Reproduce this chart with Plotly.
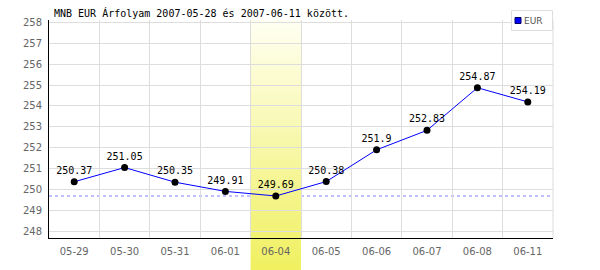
import plotly.graph_objects as go

dates = ["05-29", "05-30", "05-31", "06-01", "06-04", "06-05", "06-06", "06-07", "06-08", "06-11"]
eur = [250.37, 251.05, 250.35, 249.91, 249.69, 250.38, 251.9, 252.83, 254.87, 254.19]
labels = ["250.37", "251.05", "250.35", "249.91", "249.69", "250.38", "251.9", "252.83", "254.87", "254.19"]
y_ticks = list(range(248, 259))
title_text = "MNB EUR Árfolyam 2007-05-28 és 2007-06-11 között."
series_name = "EUR"

W, H = 600, 270
L, R, T, B = 49, 47, 20, 32
PW, PH = W - L - R, H - T - B

def px(x):
    return (x - L) / PW

def py(y):
    return (H - B - y) / PH

xs = list(range(len(dates)))
imin = eur.index(min(eur))

fig = go.Figure()
fig.add_trace(go.Scatter(
    x=xs, y=eur, mode="lines+markers+text", text=labels,
    textposition="top center",
    textfont=dict(family="DejaVu Sans Mono", size=10, color="#000"),
    line=dict(color="#0000ff", width=1),
    marker=dict(color="#000", size=7),
    showlegend=False, cliponaxis=False,
))

shapes = []
# dashed min line
shapes.append(dict(type="line", xref="paper", x0=0, x1=1, yref="y", y0=min(eur), y1=min(eur),
                   line=dict(color="#8080ff", width=1, dash="3px,3px"), layer="between"))
# gradient band
n = 50
top_c = (255, 255, 242)
bot_c = (240, 240, 96)
y_top, y_bot = py(T), py(H)
for i in range(n):
    f = (i + 0.5) / n
    c = tuple(int(round(top_c[k] + (bot_c[k] - top_c[k]) * f)) for k in range(3))
    ya = y_top + (y_bot - y_top) * i / n
    yb = y_top + (y_bot - y_top) * (i + 1) / n
    shapes.append(dict(type="rect", xref="x", x0=imin - 0.5, x1=imin + 0.5, yref="paper",
                       y0=yb, y1=ya, fillcolor="rgb(%d,%d,%d)" % c, line=dict(width=0),
                       layer="between"))
# right edge grid line
shapes.append(dict(type="line", xref="paper", x0=1, x1=1, yref="paper", y0=0, y1=1,
                   line=dict(color="#dddddd", width=1), layer="below"))
# legend box
shapes.append(dict(type="rect", xref="paper", yref="paper", x0=px(511.5), x1=px(552.5),
                   y0=py(30.5), y1=py(10.5), fillcolor="#ffffff",
                   line=dict(color="#dddddd", width=1), layer="above"))
shapes.append(dict(type="rect", xref="paper", yref="paper", x0=px(515), x1=px(521),
                   y0=py(23.5), y1=py(17.5), fillcolor="#0000ff",
                   line=dict(color="#000066", width=1), layer="above"))

fig.update_layout(
    width=W, height=H, margin=dict(l=L, r=R, t=T, b=B),
    paper_bgcolor="#ffffff", plot_bgcolor="#ffffff",
    shapes=shapes,
    showlegend=False,
    annotations=[
        dict(text=title_text, xref="paper", yref="paper", x=px(52), y=py(13),
             xanchor="left", yanchor="middle", showarrow=False,
             font=dict(family="DejaVu Sans Mono", size=10, color="#000")),
        dict(text=series_name, xref="paper", yref="paper", x=px(522), y=py(21),
             xanchor="left", yanchor="middle", showarrow=False,
             font=dict(family="DejaVu Sans", size=9, color="#555")),
    ],
    xaxis=dict(
        range=[-0.5, len(dates) - 0.5], tickmode="array", tickvals=xs, ticktext=dates,
        showgrid=False, zeroline=False, showline=True, linecolor="#000", linewidth=1,
        ticks="", ticklabelstandoff=4,
        tickfont=dict(family="DejaVu Sans", size=10, color="#666"),
        minor=dict(tickmode="linear", tick0=0.5, dtick=1, showgrid=True,
                   gridcolor="#dddddd", gridwidth=1, ticks=""),
        fixedrange=True,
    ),
    yaxis=dict(
        range=[247.68, 258.11], tickmode="array", tickvals=y_ticks,
        showgrid=True, gridcolor="#dddddd", gridwidth=1, zeroline=False,
        showline=True, linecolor="#000", linewidth=1, ticks="", ticklabelstandoff=4,
        tickfont=dict(family="DejaVu Sans", size=10, color="#666"),
        fixedrange=True,
    ),
)

fig.write_html("out.html")
